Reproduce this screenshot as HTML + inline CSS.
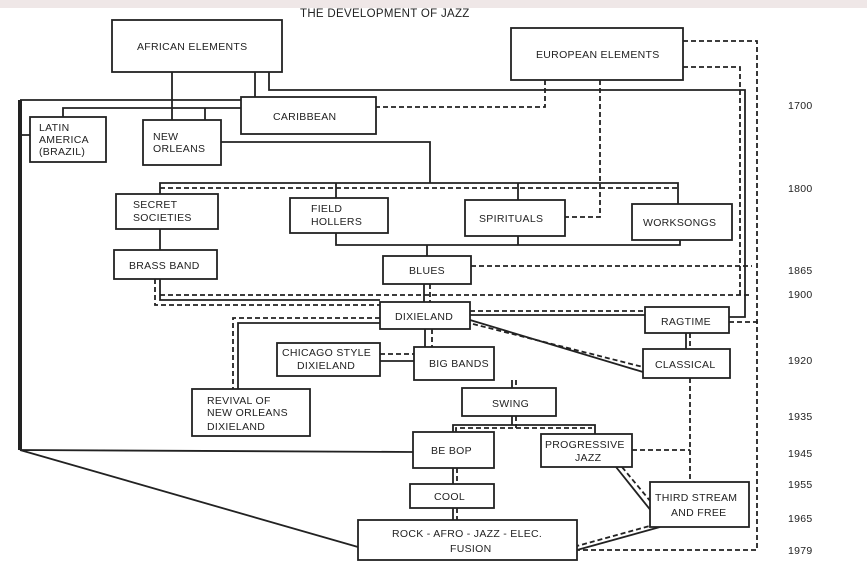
<!DOCTYPE html>
<html><head><style>
body{margin:0;background:#fff;}
svg{display:block;}
text{font-family:"Liberation Sans",sans-serif;font-size:10.5px;fill:#222;letter-spacing:0.3px;}
.b{fill:#fff;stroke:#222;stroke-width:1.8;}
.s{fill:none;stroke:#222;stroke-width:1.8;}
.d{fill:none;stroke:#222;stroke-width:1.8;stroke-dasharray:5,3;}
</style></head><body>
<svg width="867" height="567" viewBox="0 0 867 567">
<rect x="0" y="0" width="867" height="8" fill="#efe7e7"/>
<text x="300" y="17" style="font-size:11.5px">THE DEVELOPMENT OF JAZZ</text>

<path class="s" d="M172 72V120 M255 72V97 M269 72V90 H745 V317 H729"/>
<path class="s" d="M20 100 H241 M63 117 V108 H241 M205 108 V120" />
<path class="s" style="stroke-width:4" d="M20 100 V450"/>
<path class="s" d="M20 135 H30 M20 450 L413 452 M20 450 L358 547"/>
<path class="s" d="M221 142 H430 V183 M160 194 V183 H678 V204 M336 183 V198 M518 183 V200"/>
<path class="s" d="M160 229 V250 M336 233 V245 H680 V240 M518 236 V245 M427 245 V256"/>
<path class="s" d="M160 279 V300 H380 M424 284 V302 M470 315 H645 M470 320 L643 372 M686 333 V349"/>
<path class="s" d="M380 323 H238 V389 M425 329 V361 H380 M425 361 H414 M512 380 V388 M512 416 V425 M453 432 V425 H595 V434"/>
<path class="s" d="M616 467 L652 512 M453 468 V484 M453 508 V520 M660 527 L577 550"/>

<path class="d" d="M545 80 V107 H376 M600 80 V217 H565 M683 41 H757 V550 H577 M683 67 H740 V295"/>
<path class="d" d="M160 188 H678 M471 266 H752 M155 279 V305 H380 M160 295 H750 M430 284 V302"/>
<path class="d" d="M470 311 H645 M473 324 L643 367 M729 322 H760 M690 333 V349"/>
<path class="d" d="M380 318 H233 V389 M432 329 V356 H414 M380 354 H425 M516 380 V388 M516 416 V428 M456 432 V428 H592"/>
<path class="d" d="M632 450 H690 M690 378 V482 M622 467 L656 508 M457 468 V484 M457 508 V520 M664 522 L577 546"/>

<rect class="b" x="112" y="20" width="170" height="52"/>
<text x="137" y="50">AFRICAN ELEMENTS</text>
<rect class="b" x="511" y="28" width="172" height="52"/>
<text x="536" y="58">EUROPEAN ELEMENTS</text>
<rect class="b" x="241" y="97" width="135" height="37"/>
<text x="273" y="120">CARIBBEAN</text>
<rect class="b" x="30" y="117" width="76" height="45"/>
<text x="39" y="131">LATIN</text><text x="39" y="143">AMERICA</text><text x="39" y="155">(BRAZIL)</text>
<rect class="b" x="143" y="120" width="78" height="45"/>
<text x="153" y="140">NEW</text><text x="153" y="152">ORLEANS</text>
<rect class="b" x="116" y="194" width="102" height="35"/>
<text x="133" y="208">SECRET</text><text x="133" y="221">SOCIETIES</text>
<rect class="b" x="290" y="198" width="98" height="35"/>
<text x="311" y="212">FIELD</text><text x="311" y="225">HOLLERS</text>
<rect class="b" x="465" y="200" width="100" height="36"/>
<text x="479" y="222">SPIRITUALS</text>
<rect class="b" x="632" y="204" width="100" height="36"/>
<text x="643" y="226">WORKSONGS</text>
<rect class="b" x="114" y="250" width="103" height="29"/>
<text x="129" y="269">BRASS BAND</text>
<rect class="b" x="383" y="256" width="88" height="28"/>
<text x="409" y="274">BLUES</text>
<rect class="b" x="380" y="302" width="90" height="27"/>
<text x="395" y="320">DIXIELAND</text>
<rect class="b" x="645" y="307" width="84" height="26"/>
<text x="661" y="325">RAGTIME</text>
<rect class="b" x="277" y="343" width="103" height="33"/>
<text x="282" y="356">CHICAGO STYLE</text><text x="297" y="369">DIXIELAND</text>
<rect class="b" x="414" y="347" width="80" height="33"/>
<text x="429" y="367">BIG BANDS</text>
<rect class="b" x="643" y="349" width="87" height="29"/>
<text x="655" y="368">CLASSICAL</text>
<rect class="b" x="192" y="389" width="118" height="47"/>
<text x="207" y="404">REVIVAL OF</text><text x="207" y="416">NEW ORLEANS</text><text x="207" y="430">DIXIELAND</text>
<rect class="b" x="462" y="388" width="94" height="28"/>
<text x="492" y="407">SWING</text>
<rect class="b" x="413" y="432" width="81" height="36"/>
<text x="431" y="454">BE BOP</text>
<rect class="b" x="541" y="434" width="91" height="33"/>
<text x="545" y="448">PROGRESSIVE</text><text x="575" y="461">JAZZ</text>
<rect class="b" x="410" y="484" width="84" height="24"/>
<text x="434" y="500">COOL</text>
<rect class="b" x="650" y="482" width="99" height="45"/>
<text x="655" y="501">THIRD STREAM</text><text x="671" y="516">AND FREE</text>
<rect class="b" x="358" y="520" width="219" height="40"/>
<text x="392" y="537">ROCK - AFRO - JAZZ - ELEC.</text><text x="450" y="552">FUSION</text>

<text x="788" y="109">1700</text>
<text x="788" y="192">1800</text>
<text x="788" y="274">1865</text>
<text x="788" y="298">1900</text>
<text x="788" y="364">1920</text>
<text x="788" y="420">1935</text>
<text x="788" y="457">1945</text>
<text x="788" y="488">1955</text>
<text x="788" y="522">1965</text>
<text x="788" y="554">1979</text>
</svg>
</body></html>
